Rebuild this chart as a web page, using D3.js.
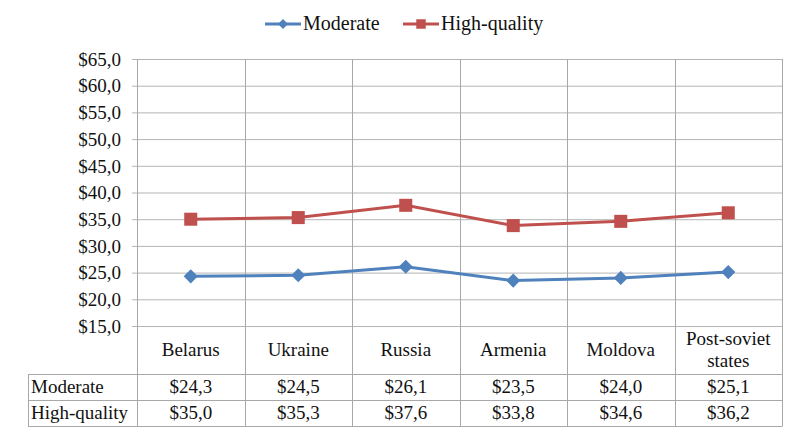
<!DOCTYPE html>
<html><head><meta charset="utf-8">
<script src="https://cdn.jsdelivr.net/npm/d3@7"></script>
<style>
body{margin:0;background:#fff}
svg{display:block}
svg text{font-family:"Liberation Serif",serif !important;fill:#111}
</style>
</head><body>
<svg id="c" width="800" height="435"></svg>
<script>
const categories = ["Belarus","Ukraine","Russia","Armenia","Moldova","Post-soviet states"];
const seriesNames = ["Moderate","High-quality"];
const moderate = [24.3,24.5,26.1,23.5,24.0,25.1];
const highQuality = [35.0,35.3,37.6,33.8,34.6,36.2];
const yTicks = [15,20,25,30,35,40,45,50,55,60,65];
const tableModerate = ["$24,3","$24,5","$26,1","$23,5","$24,0","$25,1"];
const tableHigh = ["$35,0","$35,3","$37,6","$33,8","$34,6","$36,2"];

const colors = ["#4F81BD","#C0504D"];
const fs = "19px";
const svg = d3.select("#c");
const L=137, R=782, T=59, B=326, catB=374, row1=400, row2=426, tabL=28;
const grid="#b4b4b4";

const x = d3.scaleBand().domain(categories).range([L,R]);
const y = d3.scaleLinear().domain([15,65]).range([B,T]);

function txt(sel){ return sel.style("font-size",fs); }

const yAxis = d3.axisLeft(y).tickValues(yTicks).tickSize(-(R-L)).tickSizeOuter(0)
  .tickFormat(d=>"$"+d3.format(".1f")(d).replace(".",","));
const ga = svg.append("g").attr("transform",`translate(${L},0)`).call(yAxis);
ga.attr("font-family",null).attr("font-size",null);
ga.select(".domain").remove();
ga.selectAll(".tick line").attr("stroke",grid).attr("x1",-5).attr("stroke-width",1);
txt(ga.selectAll(".tick text")).attr("x",-16).attr("dy","0.33em");

const bounds = categories.map(c=>x(c)).concat([R]);
svg.selectAll("line.v").data(bounds).enter().append("line")
  .attr("x1",d=>Math.round(d)+0.5).attr("x2",d=>Math.round(d)+0.5).attr("y1",T).attr("y2",row2)
  .attr("stroke","#a8a8a8");
[catB,row1,row2].forEach(yy=>{
  svg.append("line").attr("x1",tabL).attr("x2",R+0.5).attr("y1",yy+0.5).attr("y2",yy+0.5).attr("stroke","#a8a8a8");
});
svg.append("line").attr("x1",tabL+0.5).attr("x2",tabL+0.5).attr("y1",catB).attr("y2",row2+0.5).attr("stroke","#a8a8a8");

const cx = d=>x(d)+x.bandwidth()/2;
categories.forEach(c=>{
  const t = txt(svg.append("text").attr("x",cx(c)).attr("text-anchor","middle"));
  if(c==="Post-soviet states"){
    t.append("tspan").attr("x",cx(c)).attr("y",345).text("Post-soviet");
    t.append("tspan").attr("x",cx(c)).attr("y",367).text("states");
  } else t.attr("y",356).text(c);
});

const rows=[[seriesNames[0],tableModerate,393],[seriesNames[1],tableHigh,419]];
rows.forEach(([name,vals,by])=>{
  txt(svg.append("text").attr("x",31).attr("y",by)).text(name);
  categories.forEach((c,i)=>txt(svg.append("text").attr("x",cx(c)).attr("y",by).attr("text-anchor","middle")).text(vals[i]));
});

const series=[moderate,highQuality];
const line = d3.line().x((d,i)=>cx(categories[i])).y(d=>y(d));
series.forEach((s,k)=>{
  svg.append("path").datum(s).attr("d",line).attr("fill","none").attr("stroke",colors[k]).attr("stroke-width",3);
  if(k===0){
    svg.selectAll(null).data(s).enter().append("path")
      .attr("transform",(d,i)=>`translate(${cx(categories[i])},${y(d)}) rotate(45)`)
      .attr("d",d3.symbol(d3.symbolSquare,100)()).attr("fill",colors[k]);
  } else {
    svg.selectAll(null).data(s).enter().append("path")
      .attr("transform",(d,i)=>`translate(${cx(categories[i])},${y(d)})`)
      .attr("d",d3.symbol(d3.symbolSquare,170)()).attr("fill",colors[k]);
  }
});

const leg = svg.append("g");
const legItems=[{x:265,name:seriesNames[0]},{x:403,name:seriesNames[1]}];
legItems.forEach((it,k)=>{
  leg.append("line").attr("x1",it.x).attr("x2",it.x+36).attr("y1",24).attr("y2",24).attr("stroke",colors[k]).attr("stroke-width",3);
  if(k===0) leg.append("path").attr("transform",`translate(${it.x+18},24) rotate(45)`).attr("d",d3.symbol(d3.symbolSquare,50)()).attr("fill",colors[k]);
  else leg.append("path").attr("transform",`translate(${it.x+18},24)`).attr("d",d3.symbol(d3.symbolSquare,90)()).attr("fill",colors[k]);
  leg.append("text").attr("x",it.x+38).attr("y",30).style("font-size","20px").text(it.name);
});
</script>
</body></html>
